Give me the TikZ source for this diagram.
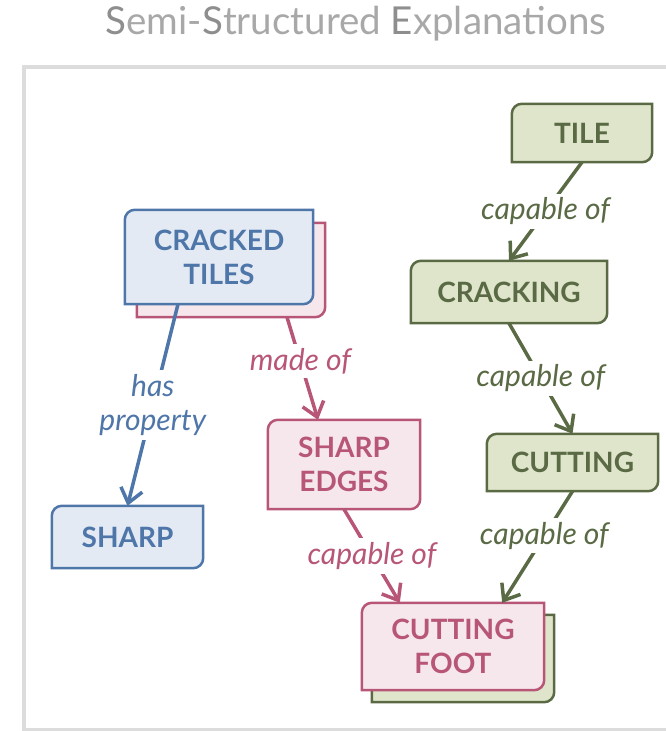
\documentclass[tikz,border=0pt]{standalone}
\usepackage{fontspec}
\setmainfont{Lato}
\usetikzlibrary{arrows.meta,backgrounds}
\definecolor{bluedk}{HTML}{4E76A9}
\definecolor{bluelt}{HTML}{E3EAF3}
\definecolor{pinkdk}{HTML}{B85678}
\definecolor{pinklt}{HTML}{F5E7EC}
\definecolor{greendk}{HTML}{5A6A45}
\definecolor{greenlt}{HTML}{DFE5CB}
\definecolor{framegray}{HTML}{DCDCDC}
\definecolor{titlegray}{HTML}{A8A8A8}
\definecolor{titledark}{HTML}{8E8E8E}
\newcommand{\tagoutline}[3]{%
  \draw[draw=#2,fill=#3,line width=2.5pt] (#1.south west) -- ([yshift=-10pt]#1.north west)
    .. controls ([yshift=-4.5pt]#1.north west) and ([xshift=4.5pt]#1.north west) .. ([xshift=10pt]#1.north west)
    -- (#1.north east) -- ([yshift=10pt]#1.south east)
    .. controls ([yshift=4.5pt]#1.south east) and ([xshift=-4.5pt]#1.south east) .. ([xshift=-10pt]#1.south east) -- cycle;}

\begin{document}
\begin{tikzpicture}[x=1pt,y=-1pt,
  concept/.style n args={3}{text=#1,minimum width=#2pt,minimum height=#3pt,inner sep=0pt,align=center,font=\fontsize{28}{34}\selectfont\bfseries},
  rel/.style={draw=#1,line width=3.5pt,-{Straight Barb[length=14pt,width=22pt]}},
  lbl/.style={text=#1,fill=white,inner sep=4pt,align=center,font=\fontsize{30}{34}\selectfont\itshape}]
\useasboundingbox (0,0) rectangle (666,731);
\draw[framegray,line width=4pt] (24,67) rectangle (672,730);
\node[text=titlegray,font=\fontsize{38.5}{42}\selectfont] (title) at (356,24)
   {\textcolor{titledark}{S}emi-\textcolor{titledark}{S}tructured \textcolor{titledark}{E}xplanations};
\node[concept={pinkdk}{188}{94}] (crackedshade) at (231,270) {};
\node[concept={bluedk}{188}{94}] (cracked) at (219,257) {CRACKED\\TILES};
\node[concept={bluedk}{151}{62}] (sharp) at (127.5,537) {SHARP};
\node[concept={pinkdk}{152}{89}] (edges) at (344,464.5) {SHARP\\EDGES};
\node[concept={greendk}{182}{87}] (footshade) at (463,658.5) {};
\node[concept={pinkdk}{182}{87}] (foot) at (453,646.5) {CUTTING\\FOOT};
\node[concept={greendk}{140}{58}] (tile) at (582,133) {TILE};
\node[concept={greendk}{196}{62}] (cracking) at (509,292) {CRACKING};
\node[concept={greendk}{171}{57}] (cutting) at (572.5,462.5) {CUTTING};
\begin{scope}[on background layer]
\foreach \n/\c in {crackedshade/pink,cracked/blue,sharp/blue,edges/pink,footshade/green,foot/pink,tile/green,cracking/green,cutting/green} {
   \tagoutline{\n}{\c dk}{\c lt}
}
\end{scope}
\draw[rel=greendk] (tile.south) -- node[lbl=greendk] {capable of} (cracking.north);
\draw[rel=greendk] (cracking.south) -- node[lbl=greendk] {capable of} (cutting.north);
\draw[rel=greendk] (cutting.south) -- node[lbl=greendk,pos=0.4] {capable of} ([xshift=-42pt]foot.north east);
\draw[rel=bluedk] ([xshift=-41pt]cracked.south) -- node[lbl=bluedk] {has\\property} (sharp.north);
\draw[rel=pinkdk] ([xshift=56pt]crackedshade.south) -- node[lbl=pinkdk,pos=0.43] {made of} ([xshift=-26pt]edges.north);
\draw[rel=pinkdk] (edges.south) -- node[lbl=pinkdk] {capable of} ([xshift=38pt]foot.north west);
\end{tikzpicture}
\end{document}
